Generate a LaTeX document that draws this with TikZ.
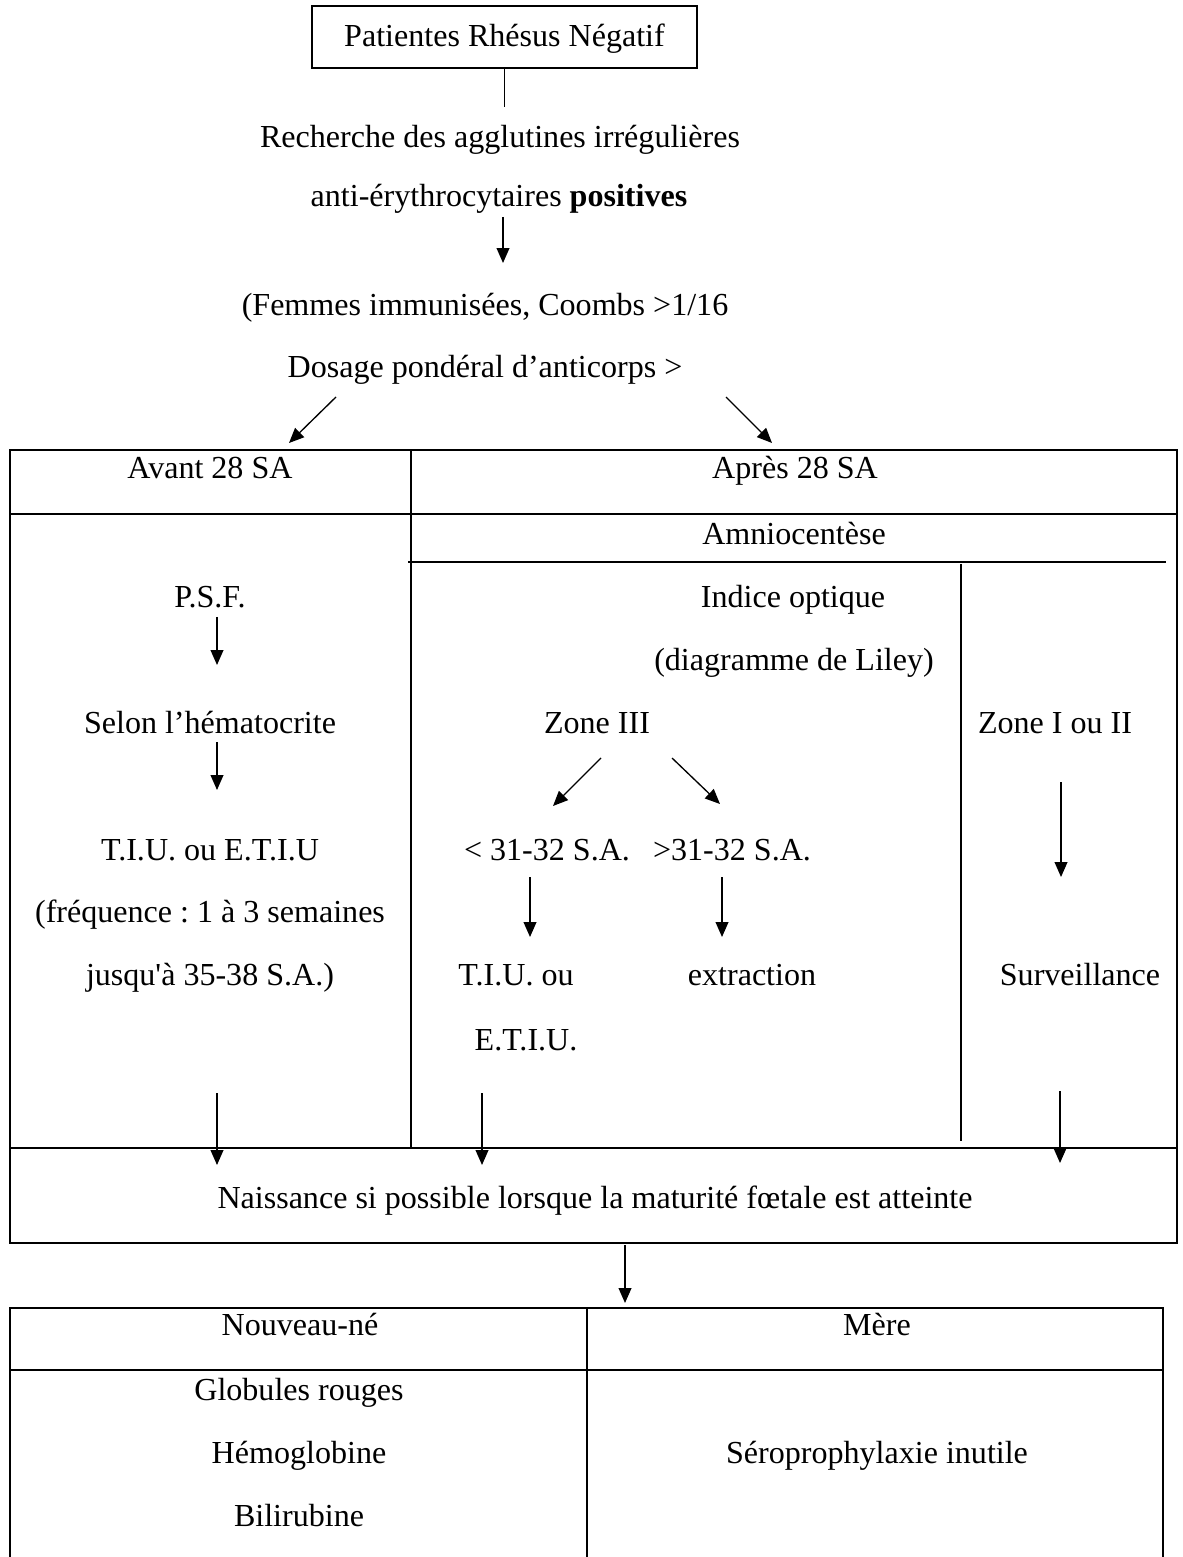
\documentclass[tikz,border=0pt]{standalone}
\usepackage{fontspec}
\setmainfont{Liberation Serif}
\usetikzlibrary{arrows.meta,positioning}
\tikzstyle{arrow} = [line width=0.5pt,-{Triangle[length=5.6pt,width=4.8pt]}]
\tikzstyle{cell} = [line width=0.75pt]
\tikzstyle{txt} = [anchor=base,inner sep=0pt,font=\fontsize{12}{14}\selectfont]
\frenchspacing

\begin{document}
\begin{tikzpicture}[x=0.3743pt,y=-0.3743pt,every node/.style={txt}]
    \useasboundingbox (0,0) rectangle (1182,1557);

    \node[draw,line width=0.7pt,anchor=center,minimum width=144pt,minimum height=23.2pt,text depth=1pt] (rh) at (504.5,37) {Patientes Rhésus Négatif};
    \node (rech)   at (500,148) {Recherche des agglutines irrégulières};
    \node (anti)   at (499,207) {anti-érythrocytaires \textbf{positives}};
    \node (femmes) at (485,316) {(Femmes immunisées, Coombs >1/16};
    \node (dosage) at (485,378) {Dosage pondéral d’anticorps >};

    \coordinate (rh-end) at (504.5,107);
    \draw[line width=0.5pt] (rh.south) -- (rh-end);
    \coordinate (a1s) at (503,217);  \coordinate (a1e) at (503,263);
    \coordinate (a2s) at (336,397);  \coordinate (a2e) at (289,443);
    \coordinate (a3s) at (726,397);  \coordinate (a3e) at (772,443);
    \draw[arrow] (a1s) -- (a1e);
    \draw[arrow] (a2s) -- (a2e);
    \draw[arrow] (a3s) -- (a3e);

    % premier tableau
    \draw[cell] (10,450) rectangle (1177,1148);
    \draw[cell] (10,514) -- (1177,514);
    \draw[cell] (411,450) -- (411,1148);
    \draw[cell] (408,562) -- (1166,562);
    \draw[line width=0.6pt] (961,564) -- (961,1141);
    \draw[cell] (10,1148) rectangle (1177,1243);

    \node (avant)  at (210,479) {Avant 28 SA};
    \node (apres)  at (795,479) {Après 28 SA};
    \node (amnio)  at (794,545) {Amniocentèse};
    \node (psf)    at (210,608) {P.S.F.};
    \node (indice) at (793,608) {Indice optique};
    \node (liley)  at (794,670) {(diagramme de Liley)};
    \node (selon)  at (210,733) {Selon l’hématocrite};
    \node (ztrois) at (597,733) {Zone III};
    \node (zun)    at (1055,733) {Zone I ou II};
    \node (tiu)    at (210,860) {T.I.U. ou E.T.I.U};
    \node (avsa)   at (547,860) {< 31-32 S.A.};
    \node (apsa)   at (732,860) {>31-32 S.A.};
    \node (freq)   at (210,922) {(fréquence : 1 à 3 semaines};
    \node (jusq)   at (210,985) {jusqu\textquotesingle à 35-38 S.A.)};
    \node (tiub)   at (516,985) {T.I.U. ou};
    \node (extr)   at (752,985) {extraction};
    \node (surv)   at (1080,985) {Surveillance};
    \node (etiu)   at (526,1050) {E.T.I.U.};
    \node (naiss)  at (595,1208) {Naissance si possible lorsque la maturité fœtale est atteinte};

    \coordinate (a4s) at (217,617);   \coordinate (a4e) at (217,665);
    \coordinate (a5s) at (217,742);   \coordinate (a5e) at (217,790);
    \coordinate (a6s) at (601,758);   \coordinate (a6e) at (553,806);
    \coordinate (a7s) at (672,758);   \coordinate (a7e) at (720,804);
    \coordinate (a8s) at (530,877);   \coordinate (a8e) at (530,937);
    \coordinate (a9s) at (722,877);   \coordinate (a9e) at (722,937);
    \coordinate (a10s) at (1061,782); \coordinate (a10e) at (1061,877);
    \coordinate (a11s) at (217,1093); \coordinate (a11e) at (217,1165);
    \coordinate (a12s) at (482,1093); \coordinate (a12e) at (482,1165);
    \coordinate (a13s) at (1060,1091);\coordinate (a13e) at (1060,1163);
    \coordinate (a14s) at (625,1245); \coordinate (a14e) at (625,1303);
    \draw[arrow] (a4s) -- (a4e);
    \draw[arrow] (a5s) -- (a5e);
    \draw[arrow] (a6s) -- (a6e);
    \draw[arrow] (a7s) -- (a7e);
    \draw[arrow] (a8s) -- (a8e);
    \draw[arrow] (a9s) -- (a9e);
    \draw[arrow] (a10s) -- (a10e);
    \draw[arrow] (a11s) -- (a11e);
    \draw[arrow] (a12s) -- (a12e);
    \draw[arrow] (a13s) -- (a13e);
    \draw[arrow] (a14s) -- (a14e);

    % second tableau
    \draw[cell] (10,1557) -- (10,1308) -- (1163,1308) -- (1163,1557);
    \draw[cell] (10,1370) -- (1163,1370);
    \draw[cell] (587,1308) -- (587,1557);

    \node (nouv) at (300,1335) {Nouveau-né};
    \node (mere) at (877,1335) {Mère};
    \node (glob) at (299,1400) {Globules rouges};
    \node (hemo) at (299,1463) {Hémoglobine};
    \node (bili) at (299,1526) {Bilirubine};
    \node (sero) at (877,1463) {Séroprophylaxie inutile};
\end{tikzpicture}
\end{document}
